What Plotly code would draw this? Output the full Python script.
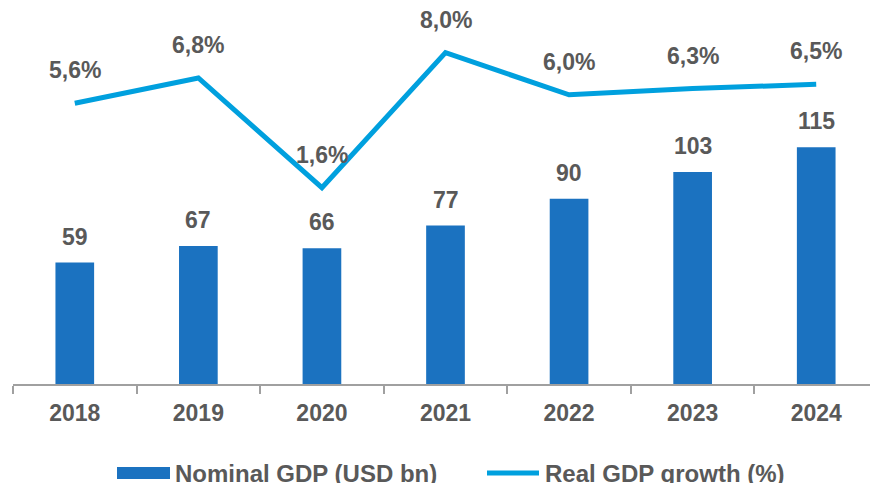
import plotly.graph_objects as go

years = ["2018", "2019", "2020", "2021", "2022", "2023", "2024"]
nominal_gdp = [59, 67, 66, 77, 90, 103, 115]
real_growth = [5.6, 6.8, 1.6, 8.0, 6.0, 6.3, 6.5]
series_names = ["Nominal GDP (USD bn)", "Real GDP growth (%)"]

BAR_COLOR = "#1B72C0"
LINE_COLOR = "#00A0DE"
TEXT_COLOR = "#595959"
AXIS_COLOR = "#A0A0A0"
FONT = "Liberation Sans, Arial, sans-serif"

OFF = 8  # page body margin in the browser
W, H = 870, 475
ML, MR, MT, MB = 5, 0, 2, 99
PW, PH = W - ML - MR, H - MT - MB


def px_x(p):  # screen px -> paper x
    return (p - OFF - ML) / PW


def px_y(p):  # screen px -> paper y
    return (H - MB - (p - OFF)) / PH


fig = go.Figure()
fig.add_trace(go.Bar(
    x=years, y=nominal_gdp, name=series_names[0],
    marker=dict(color=BAR_COLOR, line=dict(width=0)), width=0.313,
    yaxis="y", showlegend=False,
))
fig.add_trace(go.Scatter(
    x=years, y=real_growth, name=series_names[1],
    mode="lines", line=dict(color=LINE_COLOR, width=5),
    yaxis="y2", showlegend=False,
))

LBL = 23
annotations = []
for i, v in enumerate(nominal_gdp):
    annotations.append(dict(x=i, y=v, xref="x", yref="y", text=f"<b>{v}</b>",
                            showarrow=False, yshift=26,
                            font=dict(size=LBL, color=TEXT_COLOR, family=FONT)))
for i, v in enumerate(real_growth):
    annotations.append(dict(x=i, y=v, xref="x", yref="y2",
                            text="<b>" + f"{v:.1f}".replace(".", ",") + "%</b>",
                            showarrow=False, yshift=33,
                            font=dict(size=LBL, color=TEXT_COLOR, family=FONT)))

# custom legend
legend_y = 473
shapes = [
    dict(type="rect", xref="paper", yref="paper",
         x0=px_x(117), x1=px_x(170), y0=px_y(479), y1=px_y(467),
         fillcolor=BAR_COLOR, line=dict(width=0)),
    dict(type="line", xref="paper", yref="paper",
         x0=px_x(487), x1=px_x(539), y0=px_y(legend_y), y1=px_y(legend_y),
         line=dict(color=LINE_COLOR, width=5)),
]
annotations.append(dict(x=px_x(173), y=px_y(legend_y), xref="paper", yref="paper",
                        text=f"<b>{series_names[0]}</b>", showarrow=False,
                        xanchor="left", yanchor="middle",
                        font=dict(size=24, color=TEXT_COLOR, family=FONT)))
annotations.append(dict(x=px_x(543), y=px_y(legend_y), xref="paper", yref="paper",
                        text=f"<b>{series_names[1]}</b>", showarrow=False,
                        xanchor="left", yanchor="middle",
                        font=dict(size=24, color=TEXT_COLOR, family=FONT)))

fig.update_layout(
    width=W, height=H,
    margin=dict(l=ML, r=MR, t=MT, b=MB, autoexpand=False),
    plot_bgcolor="white", paper_bgcolor="white",
    font=dict(family=FONT, color=TEXT_COLOR),
    xaxis=dict(
        type="category", range=[-0.5, len(years) - 0.5], automargin=False,
        showline=True, linecolor=AXIS_COLOR, linewidth=1.5,
        ticks="outside", ticklen=8, tickcolor=AXIS_COLOR, tickwidth=1.5,
        tickson="boundaries", ticklabelstandoff=8, tickangle=0,
        tickfont=dict(size=LBL, color=TEXT_COLOR, family=FONT, weight="bold"),
        showgrid=False,
    ),
    yaxis=dict(range=[0, 181.7], visible=False, showgrid=False),
    yaxis2=dict(range=[-7.70, 10.02], overlaying="y", visible=False, showgrid=False),
    showlegend=False,
    shapes=shapes,
    annotations=annotations,
)

fig.write_html("out.html")
